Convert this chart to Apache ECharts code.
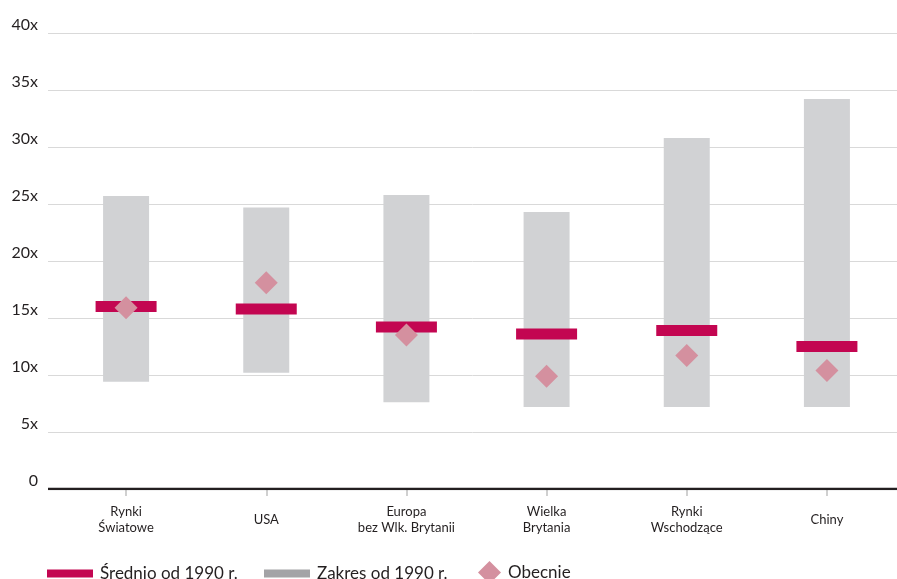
<!DOCTYPE html>
<html>
<head>
<meta charset="utf-8">
<script src="https://cdn.jsdelivr.net/npm/echarts@6/dist/echarts.min.js"></script>
<style>
  html, body { margin: 0; padding: 0; background: #fff; }
  #chart { width: 897px; height: 579px; }
</style>
</head>
<body>
<div id="chart"></div>
<script>
// Valuation multiples by market since 1990
const categories = ['Rynki\nŚwiatowe', 'USA', 'Europa\nbez Wlk. Brytanii', 'Wielka\nBrytania', 'Rynki\nWschodzące', 'Chiny'];
const rangeLow  = [9.4, 10.2, 7.6, 7.2, 7.2, 7.2];
const rangeHigh = [25.7, 24.7, 25.8, 24.3, 30.8, 34.2];
const average   = [16.0, 15.8, 14.2, 13.6, 13.9, 12.5];
const current   = [15.9, 18.1, 13.5, 9.9, 11.7, 10.4];
const yTicks    = [0, 5, 10, 15, 20, 25, 30, 35, 40];

const FONT = 'Lato';
const TEXT = '#231f20';
const MAGENTA = '#c30651';
const RANGE = '#d1d2d4';
const PINK = '#d4909f';

const rangeSpan = rangeHigh.map((h, i) => +(h - rangeLow[i]).toFixed(2));

const chart = echarts.init(document.getElementById('chart'));

const legendCommon = {
  top: 565,
  orient: 'horizontal',
  itemGap: 0,
  selectedMode: false,
  textStyle: { fontFamily: FONT, fontSize: 17, color: TEXT, padding: [0, 0, 0, 2] },
  padding: 0
};

chart.setOption({
  animation: false,
  grid: [
    { left: 48, right: 0, top: 33, bottom: 90 },
    { left: 56, right: -2, top: 33, bottom: 90 }
  ],
  legend: [
    Object.assign({}, legendCommon, {
      left: 47, itemWidth: 46, itemHeight: 8,
      data: [{ name: 'Średnio od 1990 r.', icon: 'rect', itemStyle: { color: MAGENTA } }]
    }),
    Object.assign({}, legendCommon, {
      left: 264, itemWidth: 46, itemHeight: 8,
      data: [{ name: 'Zakres od 1990 r.', icon: 'rect', itemStyle: { color: '#a3a3a6' } }]
    }),
    Object.assign({}, legendCommon, {
      left: 478, itemWidth: 23, itemHeight: 23, top: 561,
      data: [{ name: 'Obecnie', icon: 'diamond', itemStyle: { color: PINK } }]
    })
  ],
  xAxis: [
    {
      gridIndex: 0, type: 'value', min: 0, max: 1, show: false
    },
    {
      gridIndex: 1, type: 'category', data: categories,
      axisLine: { show: false },
      axisTick: { show: true, alignWithLabel: true, length: 7, lineStyle: { color: '#d0d0d0', width: 2 } },
      axisLabel: {
        margin: 31, verticalAlign: 'middle', align: 'center',
        fontFamily: FONT, fontSize: 13, lineHeight: 16, color: TEXT
      }
    }
  ],
  yAxis: [
    {
      gridIndex: 0, type: 'value', min: 0, max: 40, interval: 5,
      axisLine: { show: false },
      axisTick: { show: false },
      axisLabel: {
        margin: 10, verticalAlign: 'bottom',
        fontFamily: FONT, fontSize: 16, color: TEXT,
        formatter: v => yTicks.includes(v) ? (v === 0 ? '0' : v + 'x') : ''
      },
      splitLine: { lineStyle: { color: '#d9d9d9', width: 1 } }
    },
    {
      gridIndex: 1, type: 'value', min: 0, max: 40, interval: 5, show: false
    }
  ],
  series: [
    {
      // baseline axis drawn across the full plot width
      type: 'line', xAxisIndex: 0, yAxisIndex: 0,
      data: [[0, 0], [1, 0]], symbol: 'none', silent: true,
      lineStyle: { color: '#231f20', width: 2.5 }, z: 5
    },
    {
      name: 'rangeBase', type: 'bar', xAxisIndex: 1, yAxisIndex: 1,
      stack: 'range', data: rangeLow, barWidth: 46,
      itemStyle: { color: 'transparent' }, silent: true
    },
    {
      name: 'Zakres od 1990 r.', type: 'bar', xAxisIndex: 1, yAxisIndex: 1,
      stack: 'range', data: rangeSpan, barWidth: 46,
      itemStyle: { color: RANGE }
    },
    {
      name: 'Średnio od 1990 r.', type: 'scatter', xAxisIndex: 1, yAxisIndex: 1,
      data: average, symbol: 'rect', symbolSize: [61, 11],
      itemStyle: { color: MAGENTA, opacity: 1 }, z: 3
    },
    {
      name: 'Obecnie', type: 'scatter', xAxisIndex: 1, yAxisIndex: 1,
      data: current, symbol: 'diamond', symbolSize: [23, 23],
      itemStyle: { color: PINK, opacity: 1 }, z: 4
    }
  ]
});
</script>
</body>
</html>
